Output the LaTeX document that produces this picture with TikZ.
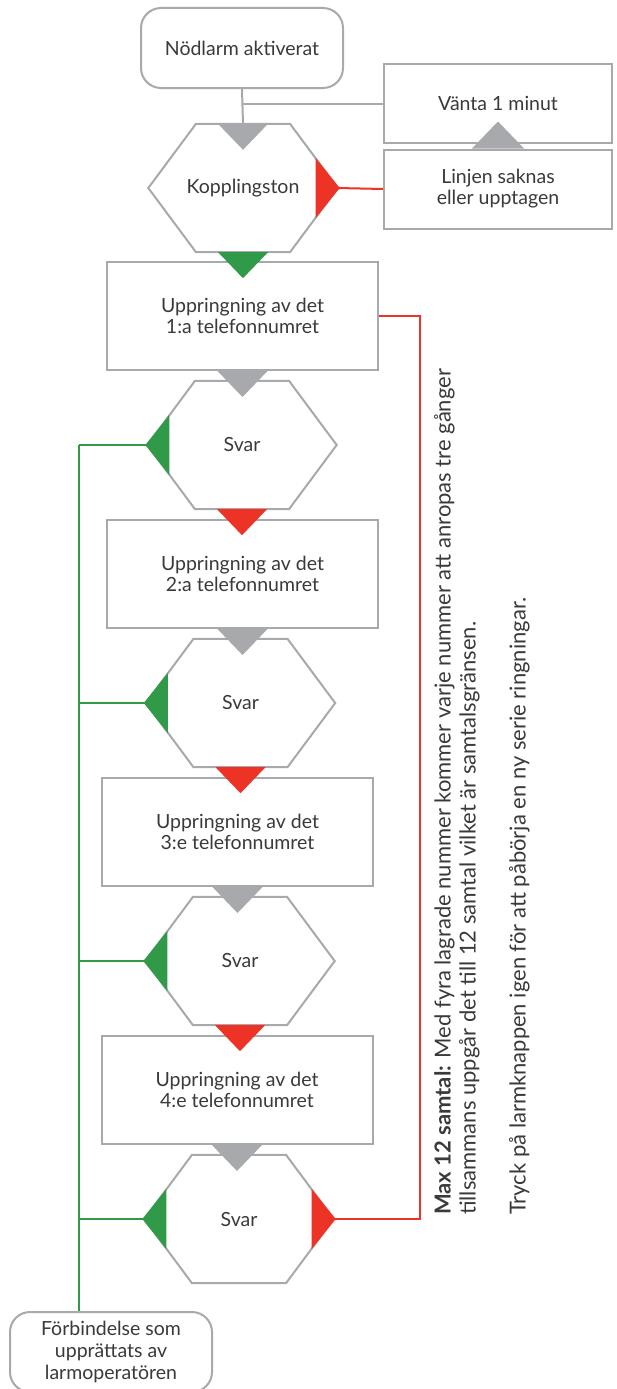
\documentclass[tikz,border=0pt]{standalone}
\usepackage{fontspec}
\setmainfont{Lato}
\usepackage{xcolor}
\usepackage{tikz}
\usetikzlibrary{calc}
\definecolor{gry}{RGB}{167,169,172}
\definecolor{grn}{RGB}{48,154,72}
\definecolor{rd}{RGB}{237,50,38}
\definecolor{txt}{RGB}{58,58,58}

\newcommand\hexa[1]{\draw[gline] (#1.west) -- ([xshift=-47pt]#1.north) -- ([xshift=47pt]#1.north)
  -- (#1.east) -- ([xshift=47pt]#1.south) -- ([xshift=-47pt]#1.south) -- cycle;}
\newcommand\dtri[2]{\fill[#1] ([xshift=-25pt]#2) -- ([xshift=25pt]#2) -- ([yshift=-26pt]#2) -- cycle;}
\newcommand\utri[2]{\fill[#1] ([xshift=-26pt]#2) -- ([xshift=26pt]#2) -- ([yshift=27pt]#2) -- cycle;}
\newcommand\ltri[2]{\fill[#1] ([xshift=-2pt]#2) -- ([xshift=22pt,yshift=30pt]#2) -- ([xshift=22pt,yshift=-30pt]#2) -- cycle;}
\newcommand\rtri[2]{\fill[#1] ([xshift=2pt]#2) -- ([xshift=-22pt,yshift=30pt]#2) -- ([xshift=-22pt,yshift=-30pt]#2) -- cycle;}

\tikzset{
  lbl/.style={text=txt, font=\fontsize{19.5}{21}\selectfont, align=center},
  callbox/.style={lbl, draw=gry, line width=2pt, minimum width=271pt, minimum height=108pt},
  waitbox/.style={lbl, draw=gry, line width=2pt, minimum width=228pt, minimum height=79pt},
  endbox/.style={lbl, draw=gry, line width=2pt, rounded corners=20pt, minimum width=202pt,
    minimum height=80pt, inner sep=0pt, font=\fontsize{19.5}{22}\selectfont},
  hexnode/.style={lbl, minimum width=189pt, minimum height=128pt, inner sep=0pt},
  gline/.style={gry, line width=2pt},
  okline/.style={grn, line width=2pt},
  noline/.style={rd, line width=2pt}
}

\begin{document}
\begin{tikzpicture}[x=1pt,y=-1pt]
  \fill[white] (0,0) rectangle (617,1389);
  \useasboundingbox (0,0) rectangle (617,1389);

  \node[endbox] (start) at (242,48) {Nödlarm aktiverat};
  \node[waitbox] (wait) at (498,103.5) {Vänta 1 minut};
  \node[waitbox] (busy) at (498,189) {Linjen saknas\\eller upptagen};
  \node[hexnode] (tone) at (243,188) {Kopplingston};
  \hexa{tone}

  \foreach \i/\bx/\by/\nr/\sx in {1/242.5/316/1:a/242, 2/242.5/574/2:a/240.5,
                                   3/237.5/832/3:e/240, 4/237/1090/4:e/239}{
    \node[callbox] (box\i) at (\bx,\by) {Uppringning av det\\\nr\ telefonnumret};
    \node[hexnode] (svar\i) at (\sx,\by+129) {Svar};
    \hexa{svar\i}
  }

  \node[endbox] (conn) at (111,1352) {Förbindelse som\\upprättats av\\larmoperatören};

  % grey flow at the top
  \draw[gline] (start.south) -- (tone.north);
  \draw[gline] (wait.west) -- (wait.west -| start.south);
  \draw[noline] (tone.east) -- (busy.west);

  % answered: to the operator
  \coordinate (gbus) at (79,0);
  \foreach \i in {1,...,4}
    \draw[okline] (svar\i.west) -- (svar\i.west -| gbus);
  \draw[okline] (svar1.west -| gbus) -- (conn.north -| gbus);

  % no answer after the 4th number: back to the 1st
  \coordinate (rbus) at (420,0);
  \draw[noline] (box1.east) -- (box1.east -| rbus) -- (svar4.east -| rbus) -- (svar4.east);

  % arrow heads
  \dtri{gry}{tone.north}
  \dtri{grn}{tone.south}
  \rtri{rd}{tone.east}
  \utri{gry}{busy.north}
  \foreach \i in {1,...,4}{
    \dtri{gry}{box\i.south}
    \ltri{grn}{svar\i.west}
  }
  \foreach \i in {1,2,3}
    \dtri{rd}{svar\i.south};
  \rtri{rd}{svar4.east}

  \node[rotate=90, anchor=north west, align=left, inner sep=0pt, text=txt,
        font=\fontsize{22}{25}\selectfont] (note) at (434,1215)
    {\textbf{Max 12 samtal:} Med fyra lagrade nummer kommer varje nummer att anropas tre gånger\\
     tillsammans uppgår det till 12 samtal vilket är samtalsgränsen.\\[25pt]
     Tryck på larmknappen igen för att påbörja en ny serie ringningar.};
\end{tikzpicture}
\end{document}
